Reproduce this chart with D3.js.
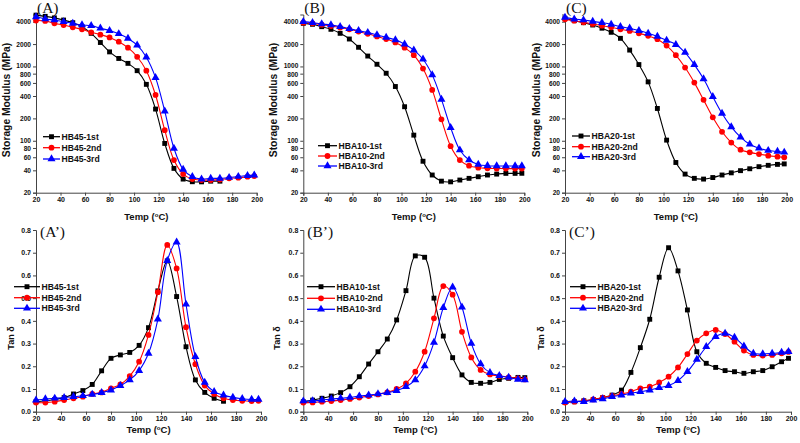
<!DOCTYPE html>
<html><head><meta charset="utf-8">
<script src="https://cdn.jsdelivr.net/npm/d3@7"></script>
<style>
html,body{margin:0;padding:0;background:#fff;}
svg{display:block;}
</style></head>
<body>
<svg id="chart" width="800" height="443"></svg>
<script>
// ---------- DATA ----------
const temps = [20,27.5,35,42.5,50,57.5,65,72.5,80,87.5,95,102.5,110,117.5,125,132.5,140,147.5,155,162.5,170,177.5,185,192.5,198];
const xTicks = [20,40,60,80,100,120,140,160,180,200];
const modTicks = [20,40,60,80,100,200,400,600,800,1000,2000,4000];
const tanTicks = [0,0.1,0.2,0.3,0.4,0.5,0.6,0.7,0.8];

// Storage modulus (MPa)
const hb45_1st_E  = [4900,4720,4500,4210,3880,3430,2790,2100,1570,1280,1100,877,574,267,92,42.5,30.5,28.1,28,28.6,28.6,null,null,null,null];
const hb45_2nd_E  = [4150,4100,3800,3610,3360,3160,2880,2680,2460,2150,1790,1350,877,413,139,55,35.6,30.5,29.6,29.6,30,31.2,31.8,32.8,33.5];
const hb45_3rd_E  = [4650,4350,4210,3990,3800,3610,3540,3270,3040,2750,2380,1930,1330,707,251,79,41.2,32.8,30.5,31.2,31.2,32,33,34,34.5];

const hba10_1st_E = [3800,3690,3430,3160,2790,2340,1810,1380,1070,810,537,287,119,53,34.6,28.6,28,29.6,31.2,32.8,34.6,35.6,36.4,36.4,36.5];
const hba10_2nd_E = [3880,3800,3650,3500,3330,3160,2950,2750,2530,2340,2100,1790,1420,937,483,194,84.6,55,46.2,43.4,42.5,42.3,42.2,42.2,42.2];
const hba10_3rd_E = [4010,3880,3730,3610,3430,3230,3040,2860,2650,2460,2280,1990,1660,1250,770,360,150,75,55,48,46.2,45.8,45.8,45.8,45.8];

const hba20_1st_E = [4440,4130,3880,3610,3270,2880,2390,1660,1060,620,272,102,51,35.6,31.2,30.5,32,34.6,37,39.6,42,44.8,46.7,48.1,48.8];
const hba20_2nd_E = [4300,4130,3925,3730,3540,3360,3160,3000,2790,2580,2330,1910,1420,966,606,355,207,132,94.6,75.8,69.8,66.1,63,61,59.8];
const hba20_3rd_E = [4570,4340,4210,4040,3880,3690,3430,3270,3040,2790,2530,2240,1970,1540,1060,681,392,233,154,112,89.6,79.3,73.9,71.7,70];

// Tan delta
const hb45_1st_T  = [0.044,0.048,0.054,0.062,0.078,0.093,0.12,0.18,0.235,0.25,0.261,0.292,0.37,0.532,0.664,0.507,0.286,0.14,0.085,0.059,0.046,null,null,null,null];
const hb45_2nd_T  = [0.04,0.04,0.044,0.051,0.059,0.066,0.078,0.085,0.103,0.12,0.157,0.22,0.338,0.526,0.734,0.631,0.372,0.209,0.115,0.078,0.059,0.051,0.048,0.047,0.048];
const hb45_3rd_T  = [0.051,0.056,0.059,0.062,0.066,0.07,0.076,0.084,0.095,0.115,0.14,0.181,0.257,0.407,0.665,0.746,0.473,0.242,0.129,0.088,0.073,0.063,0.057,0.054,0.054];

const hba10_1st_T = [0.044,0.051,0.059,0.069,0.084,0.11,0.154,0.21,0.264,0.32,0.404,0.533,0.686,0.68,0.5,0.333,0.238,0.162,0.129,0.125,0.129,0.142,0.147,0.151,0.15];
const hba10_2nd_T = [0.04,0.041,0.044,0.047,0.051,0.056,0.062,0.069,0.076,0.085,0.1,0.125,0.176,0.264,0.411,0.553,0.515,0.352,0.239,0.184,0.164,0.157,0.151,0.147,0.142];
const hba10_3rd_T = [0.047,0.048,0.051,0.056,0.059,0.063,0.069,0.073,0.078,0.084,0.093,0.11,0.14,0.201,0.305,0.458,0.548,0.46,0.301,0.21,0.172,0.159,0.151,0.142,0.14];

const hba20_1st_T = [0.041,0.044,0.048,0.054,0.062,0.073,0.095,0.173,0.282,0.407,0.592,0.722,0.62,0.448,0.264,0.213,0.195,0.181,0.176,0.169,0.176,0.181,0.198,0.22,0.235];
const hba20_2nd_T = [0.04,0.044,0.047,0.054,0.062,0.07,0.078,0.088,0.103,0.11,0.129,0.154,0.195,0.254,0.313,0.345,0.36,0.342,0.308,0.269,0.25,0.247,0.25,0.257,0.263];
const hba20_3rd_T = [0.044,0.047,0.044,0.051,0.056,0.066,0.073,0.081,0.088,0.095,0.106,0.115,0.137,0.176,0.23,0.286,0.33,0.345,0.327,0.289,0.257,0.254,0.257,0.261,0.264];

const seriesNames = {
  A: ["HB45-1st","HB45-2nd","HB45-3rd"],
  B: ["HBA10-1st","HBA10-2nd","HBA10-3rd"],
  C: ["HBA20-1st","HBA20-2nd","HBA20-3rd"]
};

// ---------- LAYOUT ----------
const colors = ["#000000","#ff0000","#0000ff"];
const shapes = [d3.symbolSquare, d3.symbolCircle, d3.symbolTriangle];
const symSizes = [24, 26, 28];
// small vertical nudges for crowded log-axis labels
const labelNudge = {1000:-0.7, 800:0.7, 100:-0.7, 80:0.7};

const panels = [
  {label:"(A)", names:seriesNames.A, data:[hb45_1st_E,hb45_2nd_E,hb45_3rd_E], type:"mod", xr:[36,256.7], ytitleX:10, lx:[43,60], ly:[136.7,147.7,159]},
  {label:"(B)", names:seriesNames.B, data:[hba10_1st_E,hba10_2nd_E,hba10_3rd_E], type:"mod", xr:[303.3,524.3], ytitleX:277, lx:[318,337], ly:[145.7,156,166]},
  {label:"(C)", names:seriesNames.C, data:[hba20_1st_E,hba20_2nd_E,hba20_3rd_E], type:"mod", xr:[565,786.7], ytitleX:540, lx:[572,590], ly:[136,146.7,156.7]},
  {label:"(A\u2019)", names:seriesNames.A, data:[hb45_1st_T,hb45_2nd_T,hb45_3rd_T], type:"tan", xr:[36,261], ytitleX:13.5, lx:[14,40], ly:[286.7,297.7,308.3]},
  {label:"(B\u2019)", names:seriesNames.B, data:[hba10_1st_T,hba10_2nd_T,hba10_3rd_T], type:"tan", xr:[303.3,527.3], ytitleX:280, lx:[307,335], ly:[286.7,298.3,309.3]},
  {label:"(C\u2019)", names:seriesNames.C, data:[hba20_1st_T,hba20_2nd_T,hba20_3rd_T], type:"tan", xr:[565,791], ytitleX:544, lx:[570,596], ly:[286.7,297.7,308.3]}
];

const svg = d3.select("#chart");
const font = "'Liberation Sans', Arial, sans-serif";

panels.forEach(p => {
  const g = svg.append("g");
  const x = d3.scaleLinear().domain([20,200]).range(p.xr);
  let y, yTicks, fmt, yBottom, yTop;
  if (p.type === "mod") {
    yBottom = 192.7; yTop = 14.5;
    y = d3.scaleLog().domain([20,5000]).range([yBottom, yTop]);
    yTicks = modTicks; fmt = d3.format("d");
  } else {
    yBottom = 411.7; yTop = 230;
    y = d3.scaleLinear().domain([0,0.8]).range([yBottom, yTop]);
    yTicks = tanTicks; fmt = d3.format(".1f");
  }

  // axes
  const xa = g.append("g").attr("transform", `translate(0,${yBottom})`)
    .call(d3.axisBottom(x).tickValues(xTicks).tickSize(3).tickPadding(1).tickFormat(d3.format("d")));
  const ya = g.append("g").attr("transform", `translate(${p.xr[0]},0)`)
    .call(d3.axisLeft(y).tickValues(yTicks).tickSize(3).tickPadding(2).tickFormat(fmt));
  [xa, ya].forEach(a => {
    a.select(".domain").attr("stroke","#444").attr("stroke-width",1);
    a.selectAll(".tick line").attr("stroke","#444");
    a.selectAll("text").attr("font-family", font).attr("font-weight","bold").attr("font-size", 7).attr("fill","#111");
  });
  if (p.type === "mod") {
    ya.selectAll(".tick text").attr("font-size", 6.6)
      .attr("dy", d => (0.32 * 6.6 + (labelNudge[d] || 0)).toFixed(2) + "px");
  }

  // series
  const line = d3.line()
    .defined(d => d.v != null)
    .x(d => x(d.t)).y(d => y(d.v))
    .curve(d3.curveCatmullRom.alpha(0.5));

  p.data.forEach((vals, i) => {
    const pts = temps.map((t, k) => ({t, v: vals[k]}));
    g.append("path").datum(pts)
      .attr("fill","none").attr("stroke", colors[i]).attr("stroke-width", 1.1)
      .attr("d", line);
    g.selectAll(null).data(pts.filter(d => d.v != null)).enter()
      .append("path")
      .attr("transform", d => `translate(${x(d.t)},${y(d.v)})`)
      .attr("d", d3.symbol().type(shapes[i]).size(symSizes[i]))
      .attr("fill", colors[i]);
  });

  // legend
  p.names.forEach((n, i) => {
    const ly = p.ly[i];
    g.append("line").attr("x1", p.lx[0]).attr("x2", p.lx[1]).attr("y1", ly).attr("y2", ly)
      .attr("stroke", colors[i]).attr("stroke-width", 1.3);
    g.append("path").attr("transform", `translate(${(p.lx[0]+p.lx[1])/2},${ly})`)
      .attr("d", d3.symbol().type(shapes[i]).size(symSizes[i]))
      .attr("fill", colors[i]);
    g.append("text").attr("x", p.lx[1] + 1.5).attr("y", ly + 3)
      .attr("font-family", font).attr("font-weight","bold").attr("font-size", 8.6)
      .attr("fill","#111").text(n);
  });

  // panel label
  g.append("text").attr("x", p.xr[0] + (p.type === "mod" ? 1 : 4)).attr("y", p.type === "mod" ? 12.5 : 237)
    .attr("font-family","'Liberation Serif', 'Times New Roman', serif").attr("font-size", 15.5)
    .attr("fill","#111").text(p.label);

  // x title
  const xt = g.append("text")
    .attr("x", (p.xr[0]+p.xr[1])/2).attr("y", p.type === "mod" ? 220 : 433)
    .attr("text-anchor","middle")
    .attr("font-family", font).attr("font-weight","bold").attr("font-size", 9.5).attr("fill","#111");
  xt.append("tspan").text("Temp (");
  xt.append("tspan").attr("font-size", 6).attr("dy", -3.5).text("o");
  xt.append("tspan").attr("dy", 3.5).text("C)");

  // y title
  const yc = p.type === "mod" ? 100 : 338;
  g.append("text")
    .attr("transform", `translate(${p.ytitleX},${yc}) rotate(-90)`)
    .attr("text-anchor","middle")
    .attr("font-family", font).attr("font-weight","bold")
    .attr("font-size", p.type === "mod" ? 10.3 : 9)
    .attr("fill","#111")
    .text(p.type === "mod" ? "Storage Modulus (MPa)" : "Tan \u03b4");
});
</script>
</body></html>
